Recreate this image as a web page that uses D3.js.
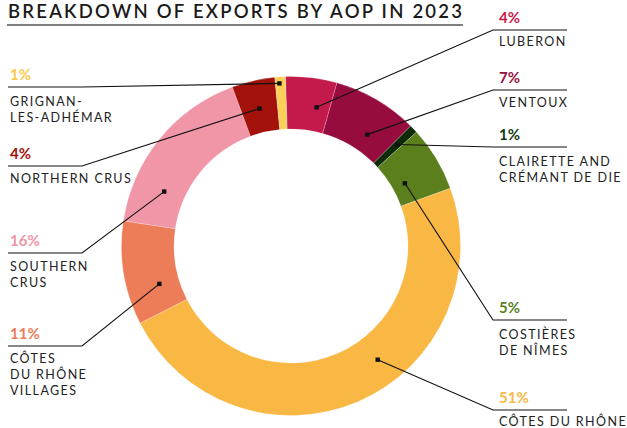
<!DOCTYPE html>
<html>
<head>
<meta charset="utf-8">
<script src="https://cdn.jsdelivr.net/npm/d3@7"></script>
<style>
  body { margin: 0; background: #fff; }
  svg { display: block; font-family: Lato, "Open Sans", sans-serif; }
</style>
</head>
<body>
<svg id="chart" width="627" height="428"></svg>
<script>
// data (clockwise from 12 o'clock)
const aop = ["Luberon", "Ventoux", "Clairette and Crémant de Die", "Costières de Nîmes",
  "Côtes du Rhône", "Côtes du Rhône Villages", "Southern Crus", "Northern Crus", "Grignan-les-Adhémar"];
const pctLabels = ["4%", "7%", "1%", "5%", "51%", "11%", "16%", "4%", "1%"];
// arc sizes as drawn in the picture (the artwork is not exactly proportional to the labels)
const arcShares = [4.9, 8.1, 0.8, 6.2, 48.0, 9.9, 17.0, 4.1, 1.0];
const nameLines = [["LUBERON"], ["VENTOUX"], ["CLAIRETTE AND", "CRÉMANT DE DIE"], ["COSTIÈRES", "DE NÎMES"],
  ["CÔTES DU RHÔNE"], ["CÔTES", "DU RHÔNE", "VILLAGES"], ["SOUTHERN", "CRUS"], ["NORTHERN CRUS"], ["GRIGNAN-", "LES-ADHÉMAR"]];

const colors = ["#c41a4b", "#960c3e", "#0d2b07", "#5b7f1d", "#f9b743", "#ed7d59", "#f096a6", "#a3110b", "#fccf5b"];
const labelColors = ["#c8184a", "#96103e", "#143a0e", "#5b7f1d", "#f9b743", "#ed7d59", "#f096a6", "#a3110b", "#fcc947"];

// layout of the callouts
const side = ["r", "r", "r", "r", "r", "l", "l", "l", "l"];
const lineY = [30, 90, 147, 320, 410, 346, 253, 166, 87];
const nameDy = [16, 17, 19, 19, 15.5, 17, 18, 17, 18.5];
const anchorT = [0.7, 0.64, 0.5, 0.6, 0.42, 0.31, 0.24, 0.5, 0.4];
const anchorR = [141, 135, 147, 130, 143, 137, 138, 141, 163];

const svg = d3.select("#chart");
const cx = 291, cy = 246, rOut = 169.5, rIn = 117;
const start = -1.9 * Math.PI / 180;

// title
svg.append("text")
  .attr("x", 8).attr("y", 18)
  .attr("font-size", 18.5).attr("font-weight", 600)
  .attr("fill", "#1a1a1a")
  .attr("textLength", 454).attr("lengthAdjust", "spacing")
  .text("BREAKDOWN OF EXPORTS BY AOP IN 2023");
svg.append("line")
  .attr("x1", 7).attr("x2", 463).attr("y1", 25).attr("y2", 25)
  .attr("stroke", "#555").attr("stroke-width", 1.4);

const pie = d3.pie().sort(null).value(d => d)
  .startAngle(start).endAngle(start + 2 * Math.PI);
const arcs = pie(arcShares);
const arc = d3.arc().innerRadius(rIn).outerRadius(rOut);

const g = svg.append("g").attr("transform", `translate(${cx},${cy})`);
g.selectAll("path").data(arcs).enter().append("path")
  .attr("d", arc)
  .attr("fill", (d, i) => colors[i])
  .attr("stroke", "rgba(255,255,255,0.45)")
  .attr("stroke-width", 0.5);

// callouts
arcs.forEach((d, i) => {
  const a = d.startAngle + anchorT[i] * (d.endAngle - d.startAngle);
  const p = d3.pointRadial(a, anchorR[i]);
  const px = cx + p[0], py = cy + p[1];
  const right = side[i] === "r";
  const elbowX = right ? 493 : 82;
  const endX = right ? 567 : 8;
  const tx = right ? 499 : 10;
  const y = lineY[i];

  svg.append("path")
    .attr("d", d3.line()([[px, py], [elbowX, y], [endX, y]]))
    .attr("fill", "none").attr("stroke", "#111").attr("stroke-width", 1.1);
  svg.append("rect")
    .attr("x", px - 2.2).attr("y", py - 2.2).attr("width", 4.4).attr("height", 4.4)
    .attr("fill", "#111");

  svg.append("text")
    .attr("x", tx).attr("y", y - 7)
    .attr("font-size", 15).attr("font-weight", 700)
    .attr("fill", labelColors[i])
    .text(pctLabels[i]);

  const t = svg.append("text")
    .attr("x", tx).attr("y", y + nameDy[i])
    .attr("font-size", 12.5).attr("fill", "#222")
    .attr("letter-spacing", 1.4);
  nameLines[i].forEach((s, k) => {
    t.append("tspan").attr("x", tx).attr("dy", k === 0 ? 0 : 16).text(s);
  });
});
</script>
</body>
</html>
